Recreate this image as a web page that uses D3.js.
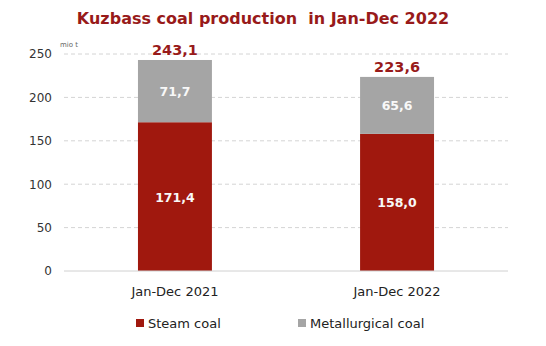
<!DOCTYPE html>
<html>
<head>
<meta charset="utf-8">
<script src="https://cdn.jsdelivr.net/npm/d3@7"></script>
<style>
  html, body { margin: 0; padding: 0; background: #fff; }
  svg { display: block; }
</style>
</head>
<body>
<script>
// Kuzbass coal production, million tonnes
const periods = ["Jan-Dec 2021", "Jan-Dec 2022"];
const steamCoal = [171.4, 158.0];
const metallurgicalCoal = [71.7, 65.6];
const totals = [243.1, 223.6];
const yTicks = [0, 50, 100, 150, 200, 250];
const seriesNames = ["Steam coal", "Metallurgical coal"];

const W = 546, H = 346;
const margin = { left: 64, right: 38, top: 54, bottom: 75 };
const red = "#A0180E", grey = "#A5A5A5", titleRed = "#981A1A";
const font = "'DejaVu Sans', Verdana, sans-serif";
const fmt = v => d3.format(".1f")(v).replace(".", ",");

const svg = d3.select("body").append("svg").attr("width", W).attr("height", H);

const x = d3.scaleBand().domain(periods)
  .range([margin.left, W - margin.right]).paddingInner(0.667).paddingOuter(0.333);
const y = d3.scaleLinear().domain([0, 250]).range([H - margin.bottom, margin.top]);

// title
svg.append("text").attr("x", 263).attr("y", 24).attr("text-anchor", "middle")
  .style("white-space", "pre")
  .attr("font-family", font).attr("font-weight", "bold").attr("font-size", 16)
  .attr("fill", titleRed).text("Kuzbass coal production  in Jan-Dec 2022");

// dashed gridlines
svg.append("g").selectAll("line").data(yTicks.filter(t => t > 0)).join("line")
  .attr("x1", margin.left).attr("x2", W - margin.right)
  .attr("y1", d => y(d)).attr("y2", d => y(d))
  .attr("stroke", "#d4d4d4").attr("stroke-dasharray", "4,3");

// y axis labels
const yAxis = svg.append("g").attr("transform", `translate(${margin.left - 12},0)`)
  .call(d3.axisLeft(y).tickValues(yTicks).tickSize(0).tickPadding(0));
yAxis.select(".domain").remove();
yAxis.selectAll("text").attr("font-family", font).attr("font-size", 12).attr("fill", "#333");

// unit label
svg.append("text").attr("x", margin.left - 4).attr("y", y(250) - 7)
  .attr("font-family", font).attr("font-size", 7).attr("fill", "#666").text("mio t");

// stacked bars
const rows = periods.map((p, i) => ({ period: p, steam: steamCoal[i], met: metallurgicalCoal[i], total: totals[i] }));
const stack = d3.stack().keys(["steam", "met"])(rows);
const colors = [red, grey];

stack.forEach((layer, li) => {
  svg.append("g").selectAll("rect").data(layer).join("rect")
    .attr("x", d => x(d.data.period)).attr("width", x.bandwidth())
    .attr("y", d => y(d[1])).attr("height", d => y(d[0]) - y(d[1]))
    .attr("fill", colors[li]);
  svg.append("g").selectAll("text").data(layer).join("text")
    .attr("x", d => x(d.data.period) + x.bandwidth() / 2)
    .attr("y", d => (y(d[0]) + y(d[1])) / 2 + 5)
    .attr("text-anchor", "middle").attr("font-family", font)
    .attr("font-weight", "bold").attr("font-size", 12.5).attr("fill", "#f8f8f8")
    .text(d => fmt(d[1] - d[0]));
});

// totals above bars
svg.append("g").selectAll("text").data(rows).join("text")
  .attr("x", d => x(d.period) + x.bandwidth() / 2).attr("y", d => y(d.total) - 5)
  .attr("text-anchor", "middle").attr("font-family", font)
  .attr("font-weight", "bold").attr("font-size", 14.5).attr("fill", titleRed)
  .text(d => fmt(d.total));

// baseline
svg.append("line").attr("x1", margin.left).attr("x2", W - margin.right)
  .attr("y1", y(0)).attr("y2", y(0)).attr("stroke", "#d0d0d0").attr("stroke-width", 1);

// category labels
svg.append("g").selectAll("text").data(periods).join("text")
  .attr("x", d => x(d) + x.bandwidth() / 2).attr("y", y(0) + 25)
  .attr("text-anchor", "middle").attr("font-family", font).attr("font-size", 13)
  .attr("fill", "#222").text(d => d);

// legend
const legendX = [136, 298];
const lg = svg.append("g").selectAll("g").data(seriesNames).join("g")
  .attr("transform", (d, i) => `translate(${legendX[i]},${y(0) + 57})`);
lg.append("rect").attr("x", 0).attr("y", -9).attr("width", 8).attr("height", 8)
  .attr("fill", (d, i) => colors[i]);
lg.append("text").attr("x", 12).attr("y", 0).attr("font-family", font)
  .attr("font-size", 13).attr("fill", "#222").text(d => d);
</script>
</body>
</html>
